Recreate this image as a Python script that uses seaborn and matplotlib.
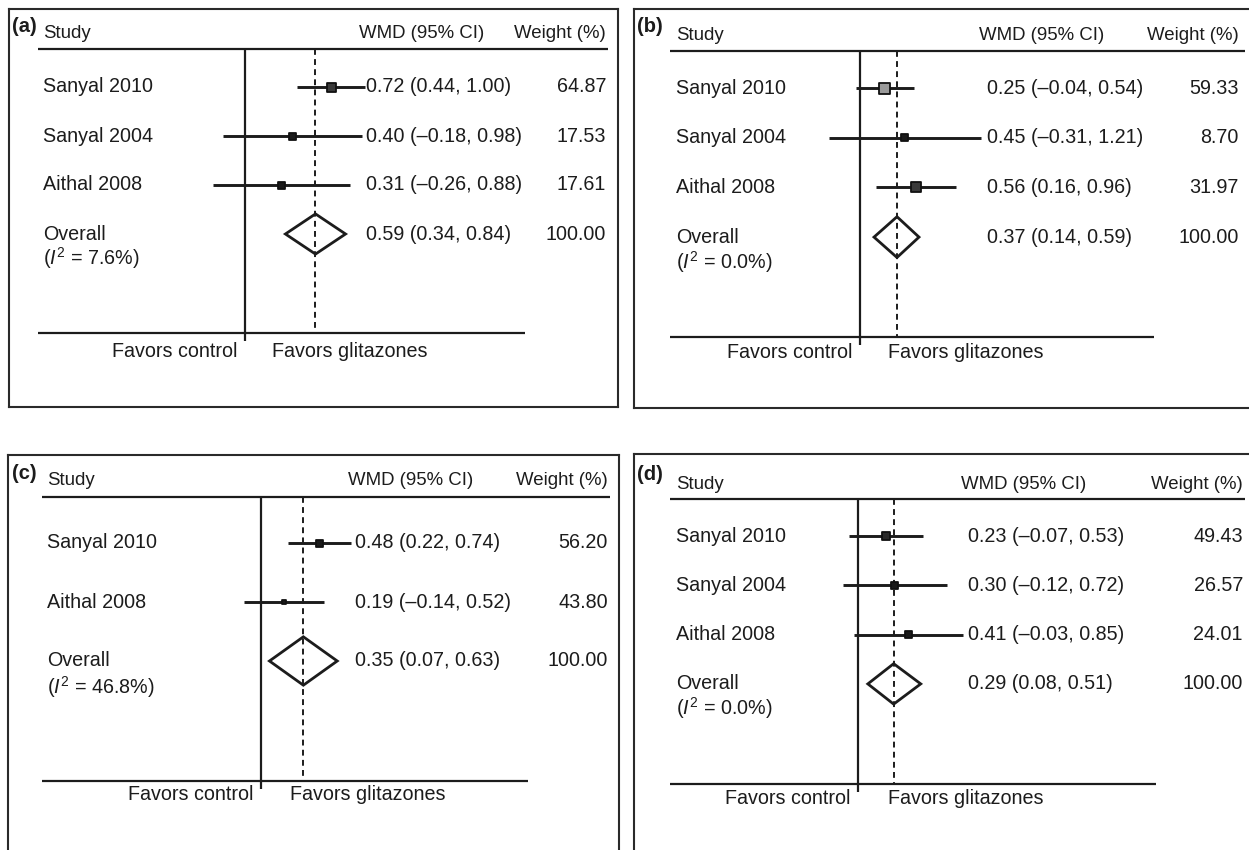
import numpy as np
import pandas as pd
import matplotlib
matplotlib.use("Agg")
import matplotlib.pyplot as plt
import seaborn as sns

# ---------------- data ----------------
studies_a = ["Sanyal 2010", "Sanyal 2004", "Aithal 2008"]
wmd_a = [0.72, 0.40, 0.31]
lo_a = [0.44, -0.18, -0.26]
hi_a = [1.00, 0.98, 0.88]
weight_a = [64.87, 17.53, 17.61]
overall_a = [0.59, 0.34, 0.84]
i2_a = "7.6"

studies_b = ["Sanyal 2010", "Sanyal 2004", "Aithal 2008"]
wmd_b = [0.25, 0.45, 0.56]
lo_b = [-0.04, -0.31, 0.16]
hi_b = [0.54, 1.21, 0.96]
weight_b = [59.33, 8.70, 31.97]
overall_b = [0.37, 0.14, 0.59]
i2_b = "0.0"

studies_c = ["Sanyal 2010", "Aithal 2008"]
wmd_c = [0.48, 0.19]
lo_c = [0.22, -0.14]
hi_c = [0.74, 0.52]
weight_c = [56.20, 43.80]
overall_c = [0.35, 0.07, 0.63]
i2_c = "46.8"

studies_d = ["Sanyal 2010", "Sanyal 2004", "Aithal 2008"]
wmd_d = [0.23, 0.30, 0.41]
lo_d = [-0.07, -0.12, -0.03]
hi_d = [0.53, 0.72, 0.85]
weight_d = [49.43, 26.57, 24.01]
overall_d = [0.29, 0.08, 0.51]
i2_d = "0.0"

overall_weight = "100.00"
panel_labels = ["(a)", "(b)", "(c)", "(d)"]
header_study = "Study"
header_wmd = "WMD (95% CI)"
header_weight = "Weight (%)"
overall_label = "Overall"
favors_left = "Favors control"
favors_right = "Favors glitazones"

# ---------------- layout / style (pixels) ----------------
W, H = 1249, 850
layout = [
    dict(box=(9, 8.5, 618, 407), zero=244.5, scale=120.3, y0=87, dy=49, label=(12, 27),
         header_y=34, study_x=43, wmd_x=359, wt_right=606, top_y=49, line_l=38, top_r=608,
         bot_y=333, bot_r=525, val_x=366, i2_y=258, fav_y=352, fc_right=237, fg_left=272,
         sides=[9, 7, 7], faces=["#3a3a3a", "#1a1a1a", "#1a1a1a"]),
    dict(box=(634, 8.5, 1256, 408), zero=860, scale=100, y0=88, dy=49.7, label=(637, 26),
         header_y=35, study_x=676, wmd_x=979, wt_right=1239, top_y=51, line_l=670, top_r=1245,
         bot_y=337, bot_r=1154, val_x=987, i2_y=262, fav_y=352, fc_right=853, fg_left=888,
         sides=[11, 7, 10], faces=["#9a9a9a", "#1a1a1a", "#3a3a3a"]),
    dict(box=(7.5, 455, 619, 880), zero=261, scale=121, y0=543, dy=59, label=(12, 473),
         header_y=480, study_x=47, wmd_x=348, wt_right=608, top_y=497, line_l=42, top_r=610,
         bot_y=781, bot_r=528, val_x=355, i2_y=687, fav_y=795, fc_right=254, fg_left=290,
         sides=[7, 4], faces=["#1a1a1a", "#1a1a1a"]),
    dict(box=(634, 454, 1256, 880), zero=858, scale=123, y0=536, dy=49.3, label=(637, 474),
         header_y=484, study_x=676, wmd_x=961, wt_right=1243, top_y=499, line_l=670, top_r=1245,
         bot_y=784, bot_r=1156, val_x=968, i2_y=708, fav_y=798, fc_right=851, fg_left=888,
         sides=[8, 7, 7], faces=["#2a2a2a", "#1a1a1a", "#1a1a1a"]),
]

sns.set_theme(style="white")
plt.rcParams["font.family"] = ["Liberation Sans", "DejaVu Sans"]
plt.rcParams["mathtext.fontset"] = "custom"
plt.rcParams["mathtext.rm"] = "Liberation Sans"
plt.rcParams["mathtext.it"] = "Liberation Sans:italic"

INK = "#1c1c1c"
FS = 14.2
FS_H = 13.4

fig = plt.figure(figsize=(W / 100, H / 100), dpi=100)
fig.patch.set_facecolor("white")


def fmt(v):
    return f"{v:.2f}".replace("-", "\u2013")


panels = [
    (studies_a, wmd_a, lo_a, hi_a, weight_a, overall_a, i2_a),
    (studies_b, wmd_b, lo_b, hi_b, weight_b, overall_b, i2_b),
    (studies_c, wmd_c, lo_c, hi_c, weight_c, overall_c, i2_c),
    (studies_d, wmd_d, lo_d, hi_d, weight_d, overall_d, i2_d),
]

for k, (studies, wmd, lo, hi, wt, ov, i2) in enumerate(panels):
    L = layout[k]
    l, t, r, b = L["box"]
    ax = fig.add_axes([l / W, 1 - b / H, (r - l) / W, (b - t) / H])
    X = lambda px, L=L: (px - L["zero"]) / L["scale"]
    Y = lambda py, L=L: (py - L["y0"]) / L["dy"]
    ax.set_xlim(X(l), X(r))
    ax.set_ylim(Y(b), Y(t))
    ax.set_xticks([])
    ax.set_yticks([])
    for s in ax.spines.values():
        s.set_color("#2a2a2a")
        s.set_linewidth(1.5)
        s.set_visible(True)

    n = len(studies)
    rows = np.arange(n)
    df = pd.DataFrame({"study": studies, "wmd": wmd, "lo": lo, "hi": hi, "row": rows})

    # frame lines
    ax.hlines(Y(L["top_y"]), X(L["line_l"]), X(L["top_r"]), color=INK, lw=1.6)
    ax.hlines(Y(L["bot_y"]), X(L["line_l"]), X(L["bot_r"]), color=INK, lw=1.6)
    ax.vlines(0, Y(L["top_y"]), Y(L["bot_y"] + 8), color=INK, lw=1.6)
    ax.vlines(ov[0], Y(L["top_y"]), Y(L["bot_y"]), color=INK, lw=1.4,
              linestyles=(0, (3.0, 2.2)))

    # CI lines and boxes
    ax.hlines(df["row"], df["lo"], df["hi"], color=INK, lw=2.1, zorder=3)
    sns.scatterplot(data=df, x="wmd", y="row", marker="s", ax=ax, legend=False,
                    color=INK, zorder=4)
    coll = ax.collections[-1]
    coll.set_sizes([(s * 0.72) ** 2 for s in L["sides"]])
    coll.set_facecolor(L["faces"])
    coll.set_edgecolor("#111111")
    coll.set_linewidth(1.3)

    # overall diamond
    h = 0.41
    ax.fill([ov[1], ov[0], ov[2], ov[0]], [n, n - h, n, n + h], fill=False,
            edgecolor=INK, lw=2.0, zorder=4)

    # texts
    ax.text(X(L["label"][0]), Y(L["label"][1]), panel_labels[k], fontsize=14.5,
            fontweight="bold", color=INK, ha="left", va="center")
    ax.text(X(L["study_x"]), Y(L["header_y"]), header_study, fontsize=FS_H, color=INK,
            ha="left", va="center")
    ax.text(X(L["wmd_x"]), Y(L["header_y"]), header_wmd, fontsize=FS_H, color=INK,
            ha="left", va="center")
    ax.text(X(L["wt_right"]), Y(L["header_y"]), header_weight, fontsize=FS_H, color=INK,
            ha="right", va="center")
    for i in range(n):
        ax.text(X(L["study_x"]), i, studies[i], fontsize=FS, color=INK, ha="left", va="center")
        ax.text(X(L["val_x"]), i, f"{fmt(wmd[i])} ({fmt(lo[i])}, {fmt(hi[i])})",
                fontsize=FS, color=INK, ha="left", va="center")
        ax.text(X(L["wt_right"]), i, f"{wt[i]:.2f}", fontsize=FS, color=INK,
                ha="right", va="center")
    ax.text(X(L["study_x"]), n, overall_label, fontsize=FS, color=INK, ha="left", va="center")
    ax.text(X(L["study_x"]), Y(L["i2_y"]), rf"($\mathit{{I}}^2$ = {i2}%)", fontsize=FS,
            color=INK, ha="left", va="center")
    ax.text(X(L["val_x"]), n, f"{fmt(ov[0])} ({fmt(ov[1])}, {fmt(ov[2])})",
            fontsize=FS, color=INK, ha="left", va="center")
    ax.text(X(L["wt_right"]), n, overall_weight, fontsize=FS, color=INK,
            ha="right", va="center")
    ax.text(X(L["fc_right"]), Y(L["fav_y"]), favors_left, fontsize=FS, color=INK,
            ha="right", va="center")
    ax.text(X(L["fg_left"]), Y(L["fav_y"]), favors_right, fontsize=FS, color=INK,
            ha="left", va="center")

fig.savefig("out.png", dpi=100, facecolor="white")
